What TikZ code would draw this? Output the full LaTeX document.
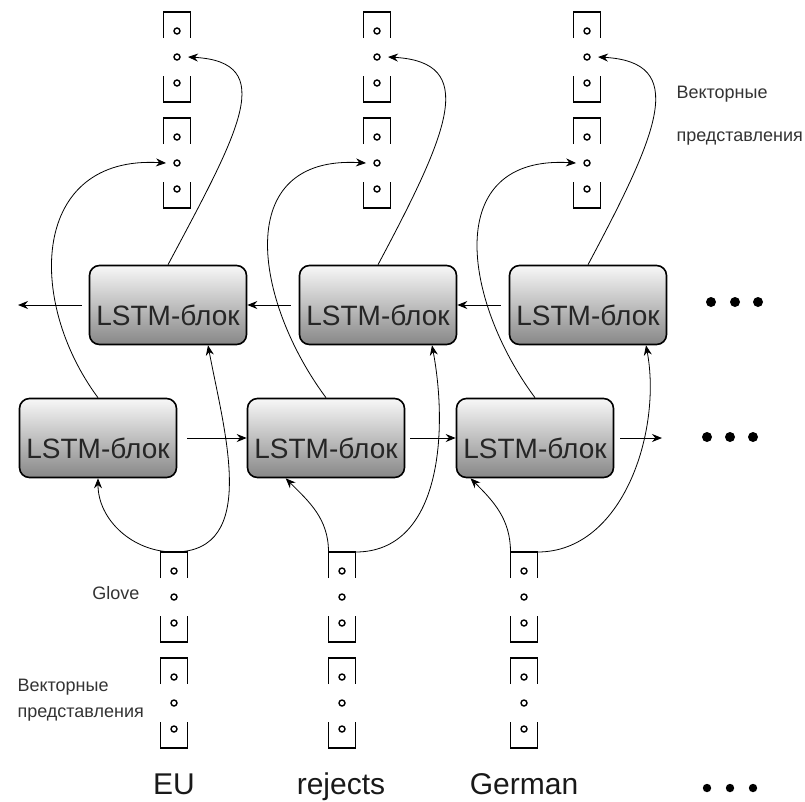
\documentclass[tikz,border=0pt]{standalone}
\usepackage{fontspec}
\setmainfont{Liberation Sans}
\usepackage{tikz}
\usetikzlibrary{arrows.meta,positioning}

\tikzset{
  lstm/.style={draw, line width=1.6pt, rounded corners=10pt,
    top color=black!3, bottom color=black!47,
    minimum width=157pt, minimum height=79pt,
    text height=40pt, text depth=0pt,
    font=\fontsize{28}{32}\selectfont, text=black!85},
  flow/.style={-{Stealth[length=10pt,width=8pt]}, line width=1pt},
  curve/.style={-{Stealth[length=10pt,width=8pt]}, line width=0.8pt},
  bracket/.style={line width=1.8pt},
  vecdot/.style={line width=1.4pt},
  word/.style={font=\fontsize{30}{36}\selectfont, text=black!90},
  note/.style={font=\fontsize{18}{26}\selectfont, text=black!80, align=left},
  vecgroup/.pic={
    \draw[bracket] (-13.5,19) -- (-13.5,45) -- (13.5,45) -- (13.5,19);
    \draw[bracket] (-13.5,-19) -- (-13.5,-45) -- (13.5,-45) -- (13.5,-19);
    \foreach \y in {26,0,-26}
      \draw[vecdot] (0,\y) circle (3);
    \coordinate (-top) at (0,45);
    \coordinate (-tl) at (-13.5,45);
    \coordinate (-tr) at (13.5,45);
    \coordinate (-l) at (-11,0);
    \coordinate (-r) at (11,0);
  }
}

\begin{document}
\begin{tikzpicture}[x=1pt,y=1pt]
\useasboundingbox (0,0) rectangle (805,-801);

% forward LSTM row
\node[lstm] (lb1) at (98,-438) {LSTM-блок};
\node[lstm] (lb2) at (326,-438) {LSTM-блок};
\node[lstm] (lb3) at (535,-438) {LSTM-блок};
% backward LSTM row
\node[lstm] (ub1) at (168,-305) {LSTM-блок};
\node[lstm] (ub2) at (378,-305) {LSTM-блок};
\node[lstm] (ub3) at (588,-305) {LSTM-блок};

% word vectors (input)
\foreach \n/\x in {1/174,2/342,3/524}{
    \pic (in\n) at (\x,-597) {vecgroup};
    \pic (low\n) at (\x,-703) {vecgroup};
}
% output vectors
\foreach \n/\x in {1/177,2/377,3/587}{
    \pic (bw\n) at (\x,-57) {vecgroup};
    \pic (fw\n) at (\x,-163) {vecgroup};
}

% recurrent links
\coordinate (fwend) at (662,-438);
\coordinate (bwend) at (18,-305);
\draw[flow, shorten <=10pt] (lb1) -- (lb2);
\draw[flow, shorten <=5pt] (lb2) -- (lb3);
\draw[flow, shorten <=6pt] (lb3) -- (fwend);
\draw[flow, shorten <=8pt] (ub3) -- (ub2);
\draw[flow, shorten <=8pt] (ub2) -- (ub1);
\draw[flow, shorten <=7pt] (ub1) -- (bwend);

% inputs into both rows
\draw[curve] (in1-top) to[out=180,in=-90] (lb1.south);
\draw[curve] (in2-tl) to[out=90,in=-45] (lb2.-135);
\draw[curve] (in3-tl) to[out=90,in=-45] (lb3.-148);
\draw[curve] (in1-top) .. controls +(86,0) and +(16,-85) .. ([xshift=40pt]ub1.south);
\draw[curve] (in2-tr) .. controls +(86,0) and +(16,-85) .. ([xshift=54pt]ub2.south);
\draw[curve] (in3-tr) .. controls +(86,0) and +(16,-85) .. ([xshift=58pt]ub3.south);

% outputs to the vectors
\foreach \n in {1,2,3}{
    \draw[curve] (lb\n.north) .. controls +(-72,97) and +(-135,8) .. (fw\n-l);
    \draw[curve] (ub\n.north) .. controls +(72,135) and +(90,-5) .. (bw\n-r);
}

% continuation dots
\foreach \x in {711,735,758}
    \fill (\x,-302) circle (5);
\foreach \x in {707,730,753}
    \fill (\x,-437) circle (5);
\foreach \x in {707,730,753}
    \fill (\x,-788) circle (4.2);

% words
\node[word, anchor=base] (w1) at (174,-794) {EU};
\node[word, anchor=base] (w2) at (341,-794) {rejects};
\node[word, anchor=base] (w3) at (524,-794) {German};

% labels
\node[note, anchor=east] (glove) at (143,-593) {Glove};
\node[note, anchor=west] (embin) at (14,-700) {Векторные\\представления};
\node[note, anchor=west, font=\fontsize{18}{43}\selectfont] (embout) at (673,-116) {Векторные\\представления};
\end{tikzpicture}
\end{document}
